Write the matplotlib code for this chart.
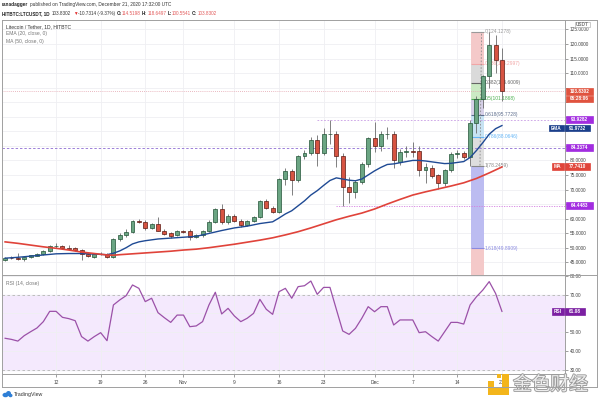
import numpy as np
import pandas as pd
import matplotlib
matplotlib.use('Agg')
import matplotlib.pyplot as plt
import matplotlib.patheffects as pe
from matplotlib.patches import Rectangle, Ellipse
from matplotlib.lines import Line2D

plt.rcParams['font.family'] = ['Liberation Sans', 'DejaVu Sans']

# daily candles LTC/USDT, 4 Oct -> 21 Dec 2020
dates = pd.date_range('2020-10-04', '2020-12-21', freq='D')

opens = [45.7, 46.6, 46.5, 46.0, 46.8, 47.3, 47.7, 48.9, 50.5, 50.6,
         50.0, 49.9, 49.3, 47.8, 46.9, 47.8, 48.0, 46.9, 52.9, 54.3,
         55.5, 59.3, 58.8, 56.7, 58.0, 55.9, 54.9, 54.4, 55.6, 55.7,
         53.7, 54.3, 55.8, 58.9, 63.3, 58.7, 61.0, 59.3, 57.8, 59.3,
         60.7, 66.1, 63.8, 62.2, 73.6, 76.4, 73.3, 81.5, 82.4, 87.0,
         82.7, 89.0, 89.0, 81.5, 71.0, 69.0, 72.7, 78.8, 87.6, 85.1,
         89.0, 89.2, 79.6, 83.0, 83.3, 83.3, 76.7, 77.4, 74.9, 72.1,
         76.7, 82.2, 82.4, 81.3, 93.0, 101.0, 109.0, 119.7, 114.5198]
highs = [46.8, 47.0, 48.1, 46.9, 47.6, 48.1, 49.2, 51.0, 51.5, 51.1,
         50.8, 50.2, 49.6, 48.2, 48.2, 48.4, 48.3, 53.4, 55.0, 56.4,
         59.6, 59.8, 59.4, 58.5, 60.4, 56.5, 55.4, 56.0, 56.1, 56.4,
         54.8, 56.0, 59.5, 63.6, 64.9, 61.5, 61.5, 60.0, 59.6, 61.0,
         66.5, 66.8, 64.5, 74.0, 77.3, 77.0, 82.0, 83.6, 88.0, 88.6,
         91.0, 93.9, 90.0, 82.5, 74.4, 73.3, 79.5, 88.0, 93.3, 90.0,
         91.5, 90.0, 84.0, 84.8, 86.4, 84.8, 79.0, 78.5, 75.5, 77.2,
         82.8, 83.5, 83.3, 93.8, 102.0, 109.5, 124.1278, 123.0, 118.6497]
lows = [45.4, 46.0, 45.9, 45.6, 46.5, 47.1, 47.5, 48.6, 50.0, 49.6,
        49.4, 48.9, 45.7, 46.8, 46.6, 47.4, 46.4, 46.6, 52.2, 53.8,
        55.2, 58.4, 56.2, 56.3, 55.6, 54.3, 53.4, 54.0, 55.0, 52.5,
        53.5, 53.6, 55.5, 58.5, 58.2, 58.1, 58.9, 57.2, 57.4, 58.8,
        60.3, 63.3, 61.8, 61.8, 71.5, 68.1, 72.5, 80.4, 81.8, 78.1,
        82.0, 85.5, 77.9, 64.3, 65.3, 67.0, 71.8, 77.8, 83.0, 83.2,
        87.5, 77.5, 78.5, 81.3, 81.3, 74.5, 72.1, 73.8, 70.2, 71.2,
        76.0, 80.8, 80.5, 78.2459, 89.5, 98.0, 105.0, 109.9, 100.5541]
closes = [46.6, 46.4, 46.2, 46.7, 47.4, 47.8, 48.9, 50.5, 50.6, 49.9,
          49.7, 49.2, 47.7, 47.1, 47.9, 48.0, 46.8, 53.0, 54.4, 55.5,
          59.2, 58.7, 56.8, 58.0, 55.9, 54.8, 54.0, 55.7, 55.4, 53.7,
          54.3, 55.8, 59.0, 63.3, 58.7, 61.0, 59.3, 57.8, 59.3, 60.7,
          66.1, 63.8, 62.4, 73.6, 76.4, 73.3, 81.5, 82.7, 87.0, 82.7,
          89.0, 89.2, 81.5, 71.0, 69.0, 72.7, 78.8, 87.6, 85.1, 89.0,
          89.2, 80.2, 83.0, 83.3, 83.0, 76.7, 77.6, 74.6, 72.1, 76.7,
          82.2, 82.5, 81.3, 93.0, 101.0, 109.0, 119.7, 114.5, 103.8302]

# EMA 20 / MA 50 (day index, value)
ema_days = [0, 2, 4, 6, 8, 10, 12, 14, 16, 17, 18, 19, 20, 21, 22, 24, 26, 28, 30,
            32, 34, 36, 38, 40, 42, 43, 44, 45, 46, 47, 48, 49, 50, 51, 52, 53, 54,
            55, 56, 57, 58, 59, 60, 61, 62, 63, 64, 65, 66, 67, 68, 69, 70, 71, 72,
            73, 74, 75, 76, 77, 78]
ema_vals = [46.4, 46.7, 47.1, 47.5, 47.9, 48.0, 48.0, 47.8, 47.6, 48.1, 48.9, 50.0,
            51.3, 52.0, 52.4, 53.0, 53.3, 53.6, 53.9, 54.9, 55.9, 56.8, 57.4, 58.3,
            58.9, 60.2, 61.6, 62.7, 64.4, 66.1, 68.1, 69.6, 71.4, 73.1, 74.0, 73.6,
            73.2, 73.0, 73.6, 75.0, 76.4, 77.6, 78.6, 78.8, 79.2, 79.6, 80.0, 80.0,
            79.8, 79.5, 79.2, 78.9, 79.0, 79.3, 79.6, 81.0, 83.4, 86.1, 89.0, 90.9,
            91.9732]
ma_days = [0, 2, 4, 6, 8, 10, 12, 14, 16, 17, 18, 20, 22, 24, 26, 28, 30, 32, 34,
           36, 38, 40, 42, 44, 46, 48, 50, 52, 54, 56, 58, 60, 62, 64, 66, 68, 70,
           72, 74, 76, 78]
ma_vals = [52.0, 51.5, 50.9, 50.3, 49.8, 49.2, 48.5, 48.0, 47.5, 47.4, 47.6, 47.9,
           48.2, 48.5, 48.8, 49.2, 49.5, 50.0, 50.6, 51.2, 51.9, 52.6, 53.4, 54.4,
           55.5, 56.8, 58.2, 59.6, 60.8, 61.9, 63.3, 65.0, 66.6, 68.1, 69.2, 70.2,
           71.2, 72.3, 73.8, 75.7, 77.741]

rsi = [46.7, 46.1, 45.2, 48.1, 50.2, 52.2, 55.6, 61.1, 61.1, 57.9,
       57.2, 56.1, 47.6, 45.2, 47.6, 49.7, 45.4, 64.5, 67.2, 69.5,
       75.2, 73.4, 66.3, 68.1, 60.4, 57.7, 55.2, 59.1, 59.1, 52.9,
       53.3, 55.6, 64.5, 71.3, 59.7, 62.7, 58.6, 55.6, 57.4, 60.0,
       67.5, 62.2, 59.5, 71.6, 73.4, 68.1, 74.3, 74.8, 77.3, 70.2,
       73.9, 73.9, 62.2, 50.6, 48.8, 52.0, 57.4, 63.6, 60.9, 63.6,
       63.6, 53.8, 56.5, 56.5, 56.5, 49.7, 50.2, 47.6, 45.2, 50.2,
       55.2, 55.2, 54.3, 64.5, 68.9, 72.5, 77.0, 70.7, 61.08]

tick_dates = ['2020-10-12', '2020-10-19', '2020-10-26', '2020-11-01', '2020-11-09',
              '2020-11-16', '2020-11-23', '2020-12-01', '2020-12-07', '2020-12-14',
              '2020-12-21']

price_ticks = [45, 50, 55, 60, 65, 70, 75, 80, 85, 90, 95, 100, 105, 110, 115, 120, 125]
hidden_price = [65, 85, 90, 95, 100, 105]   # covered by the scale tags
rsi_ticks = [30, 40, 50, 60, 70, 80]
hidden_rsi = [60]

fib_hi = 124.1278
fib_lo = 78.2459
fib_ratios = [0, 0.236, 0.382, 0.5, 0.618, 0.786, 1, 1.618, 2.618]
fib_fill = ['#f4c9c9', '#dadada', '#cbeac4', '#d6d0e8', '#c7e3f3', '#dedede', '#bcbcf1', '#f4c9c9']
fib_line = ['#9a9a9a', '#f2a6a6', '#666666', '#4caf50', '#5d6d8c', '#64b5f6', '#888888', '#8a8ae0', '#f2a6a6']

level_84 = 84.3374
level_94 = 93.9282
level_64 = 64.4483
last_price = 103.8302

W, H = 600, 401
fig = plt.figure(figsize=(6, 4.01), dpi=100)
renderer = fig.canvas.get_renderer()


def fx(p):
    return p / W


def fy(p):
    return 1 - p / H


def ptext(px, py, s, **kw):
    kw.setdefault('va', 'center')
    kw.setdefault('ha', 'left')
    return fig.text(fx(px), fy(py), s, **kw)


def chain(x, y, parts, size):
    # lay pieces one after another, measuring each one
    for s, color, weight, gap in parts:
        t = ptext(x, y, s, fontsize=size, color=color, fontweight=weight)
        x += t.get_window_extent(renderer=renderer).width + gap


def tag(x0, x1, yc, s, fc, tc='white', h=6.6, ec=None):
    fig.add_artist(Rectangle((fx(x0), fy(yc + h / 2)), (x1 - x0) / W, h / H,
                             transform=fig.transFigure, fc=fc, ec=ec or fc, lw=0.5, zorder=10))
    fig.text(fx((x0 + x1) / 2), fy(yc), s, color=tc, fontsize=3.4, ha='center',
             va='center', zorder=11, fontweight='bold')


def fline(x0, y0, x1, y1, c='#a0a0a0', lw=0.7):
    fig.add_artist(Line2D([fx(x0), fx(x1)], [fy(y0), fy(y1)], transform=fig.transFigure,
                          color=c, lw=lw, zorder=12))


ax = fig.add_axes([fx(2), fy(275), 563 / W, 255 / H])
rx = fig.add_axes([fx(2), fy(374), 563 / W, 99 / H], sharex=ax)

n = len(dates)
xs = np.arange(n)
grid_c = '#efeff2'
ticks = [int(np.where(dates == pd.Timestamp(d))[0][0]) for d in tick_dates]
tick_labels = [dates[i].strftime('%b') if dates[i].day == 1 else str(dates[i].day) for i in ticks]

# fib retracement box
fx0, fx1 = 73.14, 75.18
fib_prices = [fib_hi - r * (fib_hi - fib_lo) for r in fib_ratios]
for k in range(len(fib_prices) - 1):
    ax.add_patch(Rectangle((fx0, fib_prices[k + 1]), fx1 - fx0, fib_prices[k] - fib_prices[k + 1],
                           fc=fib_fill[k], ec='none', zorder=1))
for k, p in enumerate(fib_prices[:-1]):
    ax.hlines(p, fx0, fx1, color=fib_line[k], lw=0.8, zorder=1.5)
    lab = '%g(%.4f)' % (fib_ratios[k], p)
    ax.text(75.34, p, lab, color=fib_line[k], fontsize=3.5, va='center', ha='left', zorder=2)
ax.plot([74.55, 74.8], [fib_lo, fib_hi], color='#8a8a8a', lw=0.6, ls=(0, (2, 2)), zorder=1.6)

# horizontal levels
ax.axhline(last_price, color='#e3a2ac', lw=0.6, ls=(0, (1, 1.5)), zorder=2)
ax.axhline(level_84, color='#9c7fd8', lw=0.7, ls=(0, (2.5, 2)), zorder=2)
ax.hlines(level_94, 48.9, 88, color='#c79be4', lw=0.6, ls=(0, (2, 2)), zorder=2)
ax.hlines(level_64, 52.0, 88, color='#d47fe0', lw=0.6, ls=(0, (1.5, 1.5)), zorder=2)

# candles
for i in range(n):
    o, h, l, c = opens[i], highs[i], lows[i], closes[i]
    if c >= o:
        fc, ec = '#6ba583', '#225437'
    else:
        fc, ec = '#d75442', '#5b1a13'
    ax.vlines(i, l, h, color='#6b6b6b', lw=0.6, zorder=3)
    ax.bar(i, max(abs(c - o), 0.2), bottom=min(o, c), width=0.62, color=fc,
           edgecolor=ec, linewidth=0.5, zorder=4)

ax.plot(ema_days, ema_vals, color='#1f4a94', lw=1.0, zorder=5)
ax.plot(ma_days, ma_vals, color='#e0433a', lw=1.2, zorder=5)

ax.set_xlim(-0.49, 87.9)
ax.set_ylim(40.62, 128.25)
ax.set_yticks(price_ticks)
ax.set_yticklabels(['' if v in hidden_price else '%.4f' % v for v in price_ticks])
ax.yaxis.tick_right()
ax.set_xticks(ticks)
ax.tick_params(axis='x', labelbottom=False, length=0)
ax.tick_params(axis='y', length=2, width=0.5, colors='#777777', labelcolor='#444444',
               labelsize=3.45, pad=1.5)
ax.grid(True, color=grid_c, lw=0.6)
ax.set_axisbelow(True)
for s in ax.spines.values():
    s.set_color('#a0a0a0')
    s.set_linewidth(0.7)

# RSI panel
rx.axhspan(30, 70, color='#f4e9fd', zorder=0)
rx.axhline(70, color='#b5b5b5', lw=0.6, ls=(0, (3, 3)))
rx.axhline(30, color='#b5b5b5', lw=0.6, ls=(0, (3, 3)))
rx.plot(xs, rsi, color='#9b51a8', lw=0.9, zorder=3)
rx.set_ylim(27.6, 80.53)
rx.set_yticks(rsi_ticks)
rx.set_yticklabels(['' if v in hidden_rsi else '%.2f' % v for v in rsi_ticks])
rx.yaxis.tick_right()
rx.set_xticks(ticks)
rx.set_xticklabels(tick_labels)
rx.tick_params(axis='x', length=2, width=0.5, colors='#777777', labelcolor='#444444',
               labelsize=3.5, pad=2.5)
rx.tick_params(axis='y', length=2, width=0.5, colors='#777777', labelcolor='#444444',
               labelsize=3.45, pad=1.5)
rx.grid(True, color=grid_c, lw=0.6)
rx.set_axisbelow(True)
for s in rx.spines.values():
    s.set_color('#a0a0a0')
    s.set_linewidth(0.7)

# outer frame
fline(565, 20, 597, 20)
fline(565, 275, 597, 275)
fline(597, 20, 597, 387)
fline(2, 387, 597, 387)
fline(2, 374, 2, 387)

# header
dark = '#222222'
red = '#e25858'
chain(2, 4.8, [('ranadagger', dark, 'bold', 1.3),
               ('published on TradingView.com, December 21, 2020 17:32:00 UTC', '#333333', 'normal', 0)],
      3.45)
chain(2, 13.4, [('HITBTC:LTCUSDT, 1D', dark, 'bold', 2.5),
                ('103.8302', '#333333', 'normal', 1.2),
                ('\u25bc', '#e03030', 'normal', 1.2),
                ('-10.7314 (-9.37%)', '#333333', 'normal', 0.8),
                ('O:', dark, 'bold', 0.6), ('114.5198', red, 'normal', 1.0),
                ('H:', dark, 'bold', 0.6), ('118.6497', red, 'normal', 1.0),
                ('L:', dark, 'bold', 0.6), ('100.5541', red, 'normal', 1.0),
                ('C:', dark, 'bold', 0.6), ('103.8302', red, 'normal', 0)],
      3.3)

# legend inside chart
ptext(6, 26.5, 'Litecoin / Tether, 1D, HITBTC', fontsize=3.6, color='#333333')
ptext(6, 34, 'EMA (20, close, 0)', fontsize=3.6, color='#777777')
ptext(6, 41.5, 'MA (50, close, 0)', fontsize=3.6, color='#777777')
ptext(6, 283.5, 'RSI (14, close)', fontsize=3.6, color='#777777')

# price scale tags
purple = '#a22de0'
tag(575, 590, 24.3, 'USDT', 'white', tc='#777777', ec='#b5b5b5', h=5.6)
tag(566, 593, 91.2, '103.8302', '#e0533f')
tag(566, 593, 99.0, '06:28:06', '#e0533f')
tag(566, 593, 119.7, '93.9282', purple)
tag(549, 563.5, 128.0, 'EMA', '#1b3f8b')
tag(564.5, 590, 128.0, '91.9732', '#1b3f8b')
tag(566, 593, 147.5, '84.3374', purple)
tag(552, 563.5, 166.7, 'MA', '#e0453a')
tag(564.5, 590, 166.7, '77.7410', '#e0453a')
tag(566, 593, 205.7, '64.4483', purple)
tag(552, 563.5, 311.3, 'RSI', '#7b1fa2')
tag(564.5, 585, 311.3, '61.08', '#7b1fa2')

# TradingView footer
for cx, cy, w, h in [(5.5, 395, 6, 4.5), (8.5, 393.5, 5, 5), (10.5, 395.5, 4, 3.5)]:
    fig.add_artist(Ellipse((fx(cx), fy(cy)), w / W, h / H, transform=fig.transFigure,
                           fc='#2e7fd6', ec='none', zorder=10))
ptext(14, 394.5, 'TradingView', fontsize=3.8, color='#333333')

# watermark
gold = '#f3b51b'
for x0, y0, w, h in [(488, 381, 6, 6), (497, 374, 4, 4), (502, 374, 7, 18), (488, 388, 21, 7)]:
    fig.add_artist(Rectangle((fx(x0), fy(y0 + h)), w / W, h / H, transform=fig.transFigure,
                             fc=gold, ec='none', zorder=10))
t = fig.text(fx(513), fy(384.5), '金色财经', fontsize=13.5, color='#ececec', ha='left', va='center',
             family=['Noto Sans CJK SC', 'DejaVu Sans'], zorder=11)
t.set_path_effects([pe.withStroke(linewidth=1.3, foreground='#9a9a9a')])

fig.savefig('out.png', dpi=100, facecolor='white')
